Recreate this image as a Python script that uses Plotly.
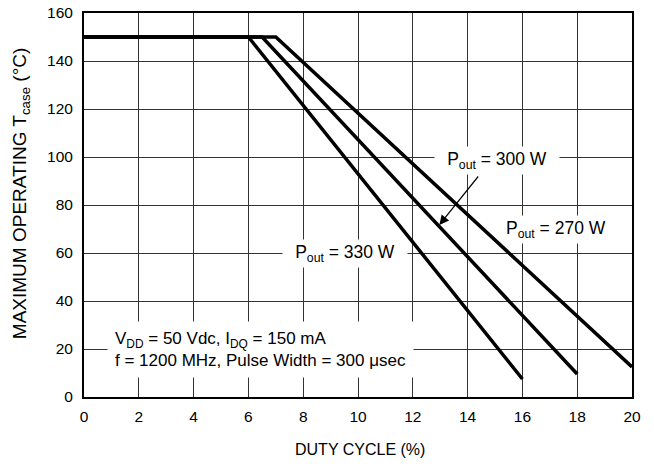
import plotly.graph_objects as go

# Data
x_330 = [0, 6, 16]
y_330 = [150, 150, 7.5]
x_300 = [0, 6.5, 18]
y_300 = [150, 150, 9.6]
x_270 = [0, 7, 20]
y_270 = [150, 150, 12.5]

x_ticks = list(range(0, 21, 2))
y_ticks = list(range(0, 161, 20))

FONT = "Liberation Sans, Arial, Helvetica, sans-serif"
BLACK = "black"

fig = go.Figure()
for xs, ys, name in [(x_330, y_330, "330 W"), (x_300, y_300, "300 W"), (x_270, y_270, "270 W")]:
    fig.add_trace(go.Scatter(x=xs, y=ys, mode="lines", name=name,
                             line=dict(color=BLACK, width=3.5),
                             showlegend=False, hoverinfo="skip"))

ann_font = dict(family=FONT, size=17.5, color=BLACK)
fig.add_annotation(x=15.06, y=98.5, xref="x", yref="y", text="P<sub>out</sub> = 300 W",
                   showarrow=False, bgcolor="white", font=ann_font, borderpad=2, width=120)
fig.add_annotation(x=17.23, y=69.6, xref="x", yref="y", text="P<sub>out</sub> = 270 W",
                   showarrow=False, bgcolor="white", font=ann_font, borderpad=2)
fig.add_annotation(x=9.53, y=59.9, xref="x", yref="y", text="P<sub>out</sub> = 330 W",
                   showarrow=False, bgcolor="white", font=ann_font, borderpad=2, width=120)
fig.add_annotation(x=0.84, y=19.6, xref="x", yref="y", xanchor="left", yanchor="middle",
                   align="left",
                   text="V<sub>DD</sub> = 50 Vdc, I<sub>DQ</sub> = 150 mA<br>f = 1200 MHz, Pulse Width = 300 μsec",
                   showarrow=False, bgcolor="white", font=dict(family=FONT, size=17, color=BLACK),
                   borderpad=7)
fig.add_annotation(x=12.97, y=71.7, xref="x", yref="y", ax=14.43, ay=92.5,
                   axref="x", ayref="y", text="", showarrow=True,
                   arrowhead=2, arrowsize=1.6, arrowwidth=1.2, arrowcolor=BLACK)

# axis titles as annotations (positions)
fig.add_annotation(x=-0.1137, y=0.53, xref="paper", yref="paper", textangle=-90,
                   xanchor="center", yanchor="middle",
                   text="MAXIMUM OPERATING T<sub>case</sub> (°C)", showarrow=False,
                   font=dict(family=FONT, size=19, color=BLACK))
fig.add_annotation(x=0.504, y=-0.138, xref="paper", yref="paper",
                   xanchor="center", yanchor="middle",
                   text="DUTY CYCLE (%)", showarrow=False,
                   font=dict(family=FONT, size=16, color=BLACK))

axis_common = dict(showgrid=True, gridcolor="#333", gridwidth=1, zeroline=False,
                   showline=True, linecolor=BLACK, linewidth=2, mirror=True,
                   ticks="", automargin=False, ticklabeloverflow="allow",
                   tickfont=dict(family=FONT, size=15.5, color=BLACK))

fig.update_xaxes(range=[0, 20], tickvals=x_ticks, ticktext=[str(v) for v in x_ticks],
                 ticklabelstandoff=4, **axis_common)
fig.update_yaxes(range=[0, 160], tickvals=y_ticks, ticktext=[str(v) for v in y_ticks],
                 ticklabelstandoff=6, **axis_common)

fig.update_layout(template="none", width=654, height=472,
                  margin=dict(l=84, r=22, t=13, b=75),
                  plot_bgcolor="white", paper_bgcolor="white",
                  font=dict(family=FONT, color=BLACK))

# remove the default 8px page margin so the figure fills the window exactly
fig.write_html("out.html", config={"displayModeBar": False},
               post_script="document.body.style.margin='0';")
